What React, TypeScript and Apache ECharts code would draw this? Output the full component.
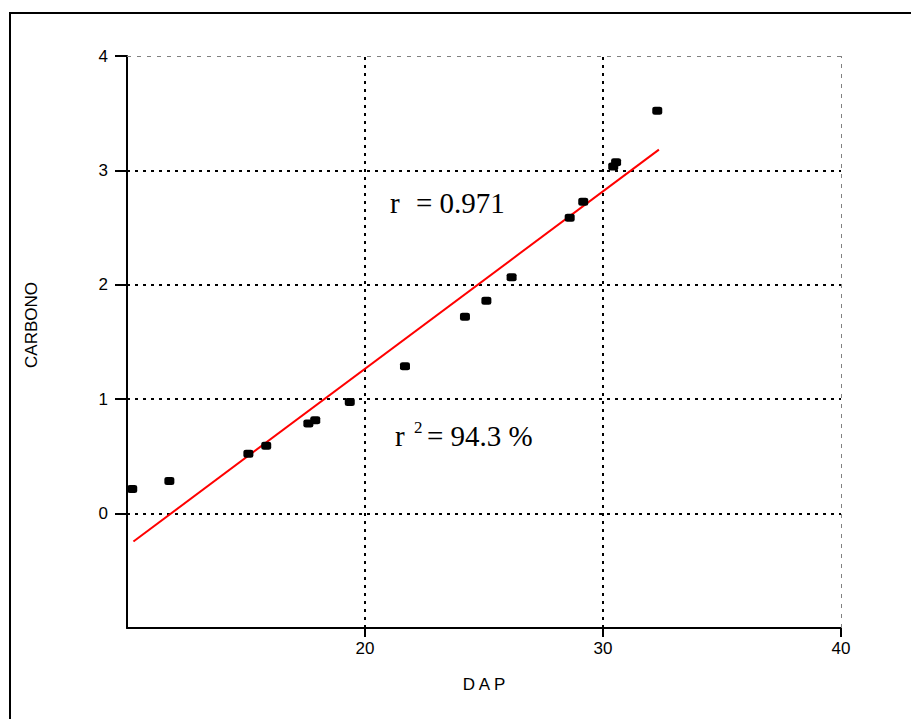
import React, { useEffect, useRef } from "react";
import * as echarts from "echarts";

const dapValues = [10.22, 11.78, 15.1, 15.85, 17.62, 17.91, 19.36, 21.68, 24.2, 25.1, 26.16, 28.6, 29.17, 30.43, 30.55, 32.28];
const carbonoValues = [0.215, 0.285, 0.523, 0.593, 0.788, 0.817, 0.976, 1.288, 1.721, 1.861, 2.066, 2.587, 2.726, 3.034, 3.072, 3.522];
const fitX = [10.27, 32.35];
const fitY = [-0.244, 3.182];
const xTicks = [20, 30, 40];
const yTicks = [0, 1, 2, 3, 4];
const xGridDotted = [20, 30];
const xGridDashed = [40];
const yGridDotted = [0, 1, 2, 3];
const yGridDashed = [4];

export default function App() {
  const ref = useRef<HTMLDivElement>(null);
  useEffect(() => {
    if (!ref.current) return;
    const chart = echarts.init(ref.current, undefined, { renderer: "svg" });
    const dotted = { color: "#000", width: 2, type: [3, 5] as any };
    const dashed = { color: "#808080", width: 1, type: [4, 6] as any };
    const markData: any[] = [
      ...yGridDotted.map((v) => ({ yAxis: v, lineStyle: dotted })),
      ...yGridDashed.map((v) => ({ yAxis: v, lineStyle: dashed })),
      ...xGridDotted.map((v) => ({ xAxis: v, lineStyle: dotted })),
      ...xGridDashed.map((v) => ({ xAxis: v, lineStyle: dashed })),
    ];
    const axisText = { color: "#000", fontFamily: "Liberation Sans", fontSize: 17 };
    const serif = "Liberation Serif";
    chart.setOption({
      animation: false,
      grid: { left: 127, top: 56, width: 714, height: 572 },
      xAxis: {
        type: "value",
        min: 10,
        max: 40,
        interval: 10,
        name: "D A P",
        nameLocation: "middle",
        nameGap: 48,
        nameTextStyle: axisText,
        axisLine: { show: true, onZero: false, lineStyle: { color: "#000", width: 2 } },
        axisTick: { show: true, length: 9, customValues: xTicks, lineStyle: { color: "#000", width: 2 } },
        axisLabel: { ...axisText, margin: 12, customValues: xTicks },
        splitLine: { show: false },
      },
      yAxis: {
        type: "value",
        min: -1,
        max: 4,
        interval: 1,
        axisLine: { show: true, onZero: false, lineStyle: { color: "#000", width: 2 } },
        axisTick: { show: true, length: 12, customValues: yTicks, lineStyle: { color: "#000", width: 2 } },
        axisLabel: { ...axisText, margin: 19, customValues: yTicks },
        splitLine: { show: false },
      },
      graphic: [
        {
          type: "rect",
          z: -10,
          shape: { x: 10, y: 13, width: 1000, height: 1000 },
          style: { fill: "none", stroke: "#000", lineWidth: 2 },
        },
        {
          type: "text",
          x: 31,
          y: 325,
          rotation: Math.PI / 2,
          style: { text: "CARBONO", fill: "#000", font: "17px 'Liberation Sans'", align: "center", verticalAlign: "middle" },
        },
        {
          type: "text",
          x: 390,
          y: 203,
          style: { text: "r", fill: "#000", font: `29px '${serif}'`, align: "left", verticalAlign: "middle" },
        },
        {
          type: "text",
          x: 416,
          y: 203,
          style: { text: "= 0.971", fill: "#000", font: `29px '${serif}'`, align: "left", verticalAlign: "middle" },
        },
        {
          type: "text",
          x: 395,
          y: 436,
          style: { text: "r", fill: "#000", font: `29px '${serif}'`, align: "left", verticalAlign: "middle" },
        },
        {
          type: "text",
          x: 414,
          y: 427,
          style: { text: "2", fill: "#000", font: `17px '${serif}'`, align: "left", verticalAlign: "middle" },
        },
        {
          type: "text",
          x: 427,
          y: 436,
          style: { text: "= 94.3 %", fill: "#000", font: `29px '${serif}'`, align: "left", verticalAlign: "middle" },
        },
      ],
      series: [
        {
          type: "scatter",
          data: dapValues.map((x, i) => [x, carbonoValues[i]]),
          symbol: "roundRect",
          symbolSize: [10, 8],
          itemStyle: { color: "#000", opacity: 1 },
          z: 5,
          markLine: {
            silent: true,
            symbol: "none",
            label: { show: false },
            data: markData,
            z: 1,
          },
        },
        {
          type: "line",
          data: fitX.map((x, i) => [x, fitY[i]]),
          showSymbol: false,
          symbol: "none",
          lineStyle: { color: "#ff0000", width: 2 },
          z: 4,
        },
      ],
    });
    return () => chart.dispose();
  }, []);
  return <div ref={ref} style={{ position: "absolute", left: 0, top: 0, width: 911, height: 719 }} />;
}
